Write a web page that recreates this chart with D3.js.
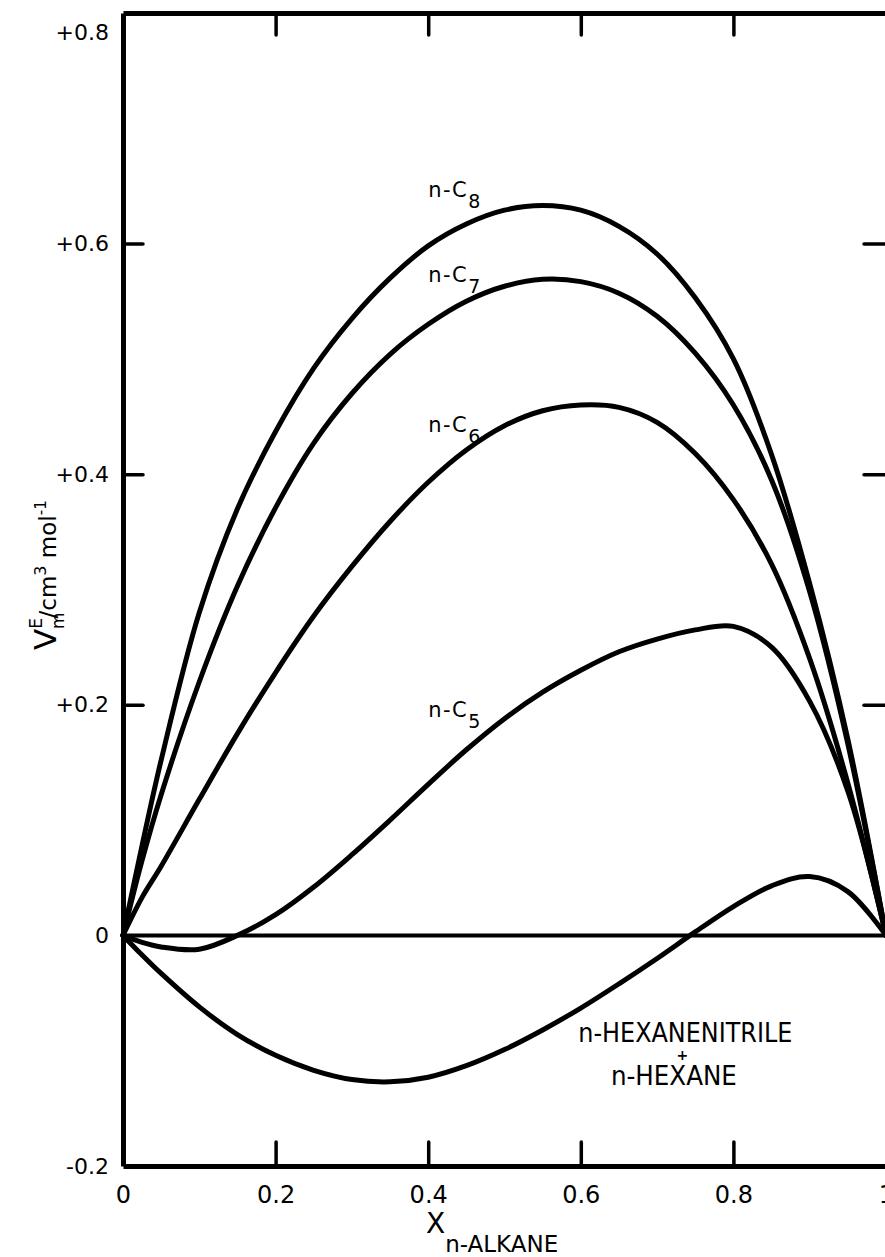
<!doctype html>
<html>
<head>
<meta charset="utf-8">
<script src="https://d3js.org/d3.v7.min.js"></script>
<style>
  body { margin: 0; background: #fff; }
  text { font-family: "DejaVu Sans", sans-serif; fill: #000; }
  .curve { fill: none; stroke: #000; stroke-width: 5; stroke-linejoin: round; stroke-linecap: round; }
  .frame path.domain { stroke: #000; stroke-width: 5; }
  .frame .tick line { stroke: #000; stroke-width: 3.5; stroke-linecap: round; }
</style>
</head>
<body>
<svg width="885" height="1257"></svg>
<script>
// mole fraction of the n-alkane
var xs = [0, 0.025, 0.05, 0.1, 0.15, 0.2, 0.25, 0.3, 0.35, 0.4, 0.45, 0.5, 0.55, 0.6, 0.65, 0.7, 0.75, 0.8, 0.85, 0.9, 0.95, 1];

// V^E (cm3/mol) for n-hexanenitrile + n-alkane
var c8 = [0, 0.078, 0.152, 0.280, 0.370, 0.437, 0.492, 0.535, 0.570, 0.598, 0.617, 0.629, 0.633, 0.629, 0.615, 0.591, 0.553, 0.500, 0.417, 0.305, 0.170, 0];
var c7 = [0, 0.065, 0.122, 0.220, 0.303, 0.371, 0.427, 0.470, 0.504, 0.530, 0.550, 0.563, 0.569, 0.567, 0.557, 0.537, 0.505, 0.460, 0.395, 0.298, 0.166, 0];
var c6 = [0, 0.033, 0.060, 0.118, 0.175, 0.228, 0.277, 0.320, 0.359, 0.393, 0.421, 0.442, 0.455, 0.460, 0.458, 0.445, 0.418, 0.378, 0.322, 0.240, 0.132, 0];
var c5 = [0, -0.006, -0.010, -0.012, 0.000, 0.018, 0.042, 0.070, 0.100, 0.131, 0.161, 0.188, 0.211, 0.230, 0.246, 0.257, 0.265, 0.268, 0.250, 0.203, 0.125, 0];
var hx = [0, -0.017, -0.033, -0.062, -0.086, -0.104, -0.117, -0.125, -0.127, -0.123, -0.113, -0.099, -0.082, -0.063, -0.042, -0.020, 0.003, 0.025, 0.043, 0.051, 0.038, 0];

var xTicks = [0, 0.2, 0.4, 0.6, 0.8, 1];
var yTicks = [-0.2, 0, 0.2, 0.4, 0.6, 0.8];

var svg = d3.select("svg");

var x = d3.scaleLinear().domain([0, 1]).range([123, 886]);
var y = d3.scaleLinear().domain([-0.2, 0.8]).range([1166, 13]);

// inner tick marks skip the corners and the zero line
function inner(v) { return v > 0.001 && v < 0.79; }

// left axis: thick frame line, inward ticks, labels
var gl = svg.append("g")
    .attr("class", "frame")
    .attr("transform", "translate(" + x(0) + ",0)")
    .call(d3.axisLeft(y).tickValues(yTicks).tickSizeInner(-20).tickSizeOuter(0).tickPadding(14)
      .tickFormat(function(d) { return d > 0 ? "+" + d.toFixed(1) : (d == 0 ? "0" : d.toFixed(1)); }));
gl.selectAll(".tick line").filter(function(d) { return !inner(d); }).remove();
gl.selectAll(".tick text").attr("font-size", 22).attr("font-family", "DejaVu Sans")
  .attr("y", function(d) { return d == 0.8 ? 19 : 0; });

// bottom axis
var gb = svg.append("g")
    .attr("class", "frame")
    .attr("transform", "translate(0," + y(-0.2) + ")")
    .call(d3.axisBottom(x).tickValues(xTicks).tickSizeInner(-24).tickSizeOuter(0).tickPadding(20)
      .tickFormat(function(d) { return d == 0 || d == 1 ? String(d) : d.toFixed(1); }));
gb.selectAll(".tick line").filter(function(d) { return d == 0 || d == 1; }).remove();
gb.selectAll(".tick text").attr("font-size", 24).attr("font-family", "DejaVu Sans Condensed, DejaVu Sans");

// top axis, ticks only
svg.append("g")
    .attr("class", "frame")
    .attr("transform", "translate(0," + y(0.8) + ")")
    .call(d3.axisTop(x).tickValues([0.2, 0.4, 0.6, 0.8]).tickSizeInner(-22).tickSizeOuter(0).tickFormat(""));

// right axis, thin line
var gr = svg.append("g")
    .attr("class", "frame")
    .attr("transform", "translate(" + x(1) + ",0)")
    .call(d3.axisRight(y).tickValues([0.2, 0.4, 0.6]).tickSizeInner(-22).tickSizeOuter(0).tickFormat(""));
gr.select("path.domain").style("stroke-width", 2).style("stroke", "#444");

// zero line
svg.append("line")
    .attr("x1", x(0)).attr("x2", x(1))
    .attr("y1", y(0)).attr("y2", y(0))
    .attr("stroke", "#000").attr("stroke-width", 4);

// curves
var line = d3.line()
    .x(function(d) { return x(d[0]); })
    .y(function(d) { return y(d[1]); })
    .curve(d3.curveCatmullRom.alpha(0.5));

[c8, c7, c6, c5, hx].forEach(function(s) {
  svg.append("path")
     .attr("class", "curve")
     .attr("d", line(xs.map(function(v, i) { return [v, s[i]]; })));
});

// curve labels
var labels = [
  { n: "8", x: 0.40, y: 0.640 },
  { n: "7", x: 0.40, y: 0.567 },
  { n: "6", x: 0.40, y: 0.437 },
  { n: "5", x: 0.40, y: 0.189 }
];
labels.forEach(function(l) {
  var t = svg.append("text")
     .attr("x", x(l.x)).attr("y", y(l.y))
     .attr("font-size", 21).attr("letter-spacing", 1.5);
  t.append("tspan").text("n-C");
  t.append("tspan").attr("dy", 11).attr("font-size", 19).text(l.n);
});

// system label
svg.append("text")
   .attr("x", x(0.737)).attr("y", y(-0.0925))
   .attr("text-anchor", "middle")
   .attr("font-size", 26).attr("font-family", "DejaVu Sans Condensed, DejaVu Sans")
   .attr("textLength", 214).attr("lengthAdjust", "spacingAndGlyphs")
   .text("n-HEXANENITRILE");
svg.append("text")
   .attr("x", x(0.733)).attr("y", y(-0.108))
   .attr("text-anchor", "middle")
   .attr("font-size", 14).attr("font-weight", "bold")
   .text("+");
svg.append("text")
   .attr("x", x(0.722)).attr("y", y(-0.130))
   .attr("text-anchor", "middle")
   .attr("font-size", 26).attr("font-family", "DejaVu Sans Condensed, DejaVu Sans")
   .attr("textLength", 126).attr("lengthAdjust", "spacingAndGlyphs")
   .text("n-HEXANE");

// x axis title
var xt = svg.append("text")
   .attr("x", 426).attr("y", 1233);
xt.append("tspan").attr("font-size", 28).text("X");
xt.append("tspan").attr("font-size", 23).attr("dy", 19).text("n-ALKANE");

// y axis title
var yt = svg.append("text")
   .attr("transform", "translate(56,650) rotate(-90)");
yt.append("tspan").attr("font-size", 31).text("V");
yt.append("tspan").attr("font-size", 17).attr("dy", -14).text("E");
yt.append("tspan").attr("font-size", 17).attr("dx", -11).attr("dy", 22).text("m");
yt.append("tspan").attr("font-size", 23).attr("dx", -6).attr("dy", -8).text("/cm");
yt.append("tspan").attr("font-size", 16).attr("dy", -10).text("3");
yt.append("tspan").attr("font-size", 23).attr("dy", 10).text(" mol");
yt.append("tspan").attr("font-size", 15).attr("dy", -10).text("-1");
</script>
</body>
</html>
